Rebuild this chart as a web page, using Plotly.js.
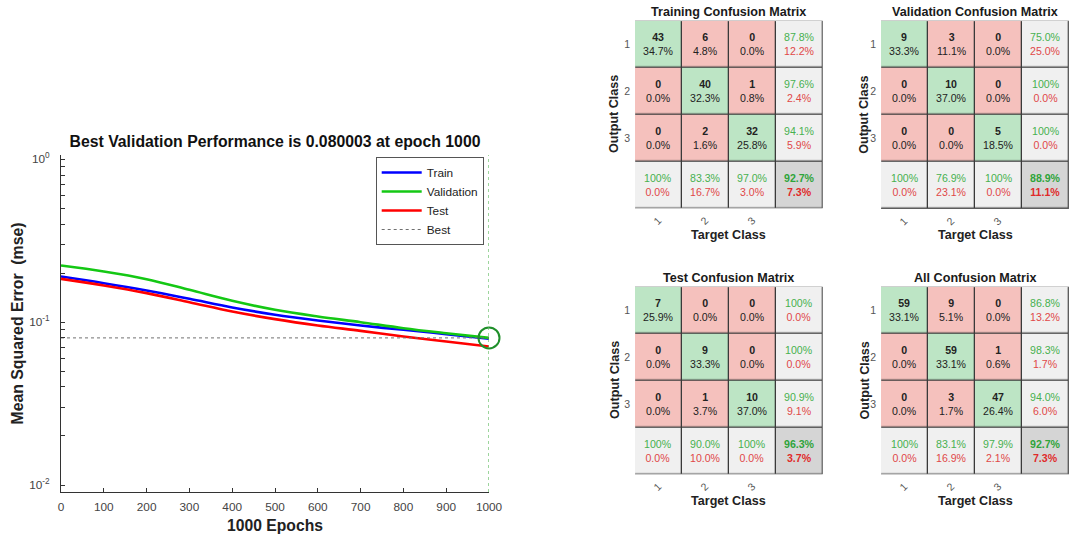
<!DOCTYPE html>
<html><head><meta charset="utf-8">
<script src="https://cdn.plot.ly/plotly-3.0.1.min.js"></script>
<style>html,body{margin:0;padding:0;background:#fff}#chart{width:1069px;height:539px}</style>
</head><body><div id="chart"></div>
<script>
// ---- Performance plot data ----
const epochs = [0, 100, 200, 300, 400, 500, 600, 700, 800, 900, 1000];
const trainMSE = [0.1905, 0.1734, 0.1563, 0.1390, 0.1230, 0.1110, 0.1023, 0.0953, 0.0897, 0.0844, 0.0790];
const validationMSE = [0.2226, 0.2045, 0.1835, 0.1578, 0.1351, 0.1190, 0.1083, 0.0999, 0.0918, 0.0855, 0.080003];
const testMSE = [0.1844, 0.1678, 0.1507, 0.1326, 0.1162, 0.1043, 0.0953, 0.0884, 0.0816, 0.0760, 0.0709];
const bestEpoch = 1000;
const bestPerf = 0.080003;
const yTickVals = [0.01, 0.1, 1];
const yTickText = ['10<sup>-2</sup>', '10<sup>-1</sup>', '10<sup>0</sup>'];
const xTickVals = [0, 100, 200, 300, 400, 500, 600, 700, 800, 900, 1000];

// ---- Confusion matrices (rows = output class, cols = target class) ----
const classLabels = ['1', '2', '3'];
const trainingCounts = [[43, 6, 0], [0, 40, 1], [0, 2, 32]];
const validationCounts = [[9, 3, 0], [0, 10, 0], [0, 0, 5]];
const testCounts = [[7, 0, 0], [0, 9, 0], [0, 1, 10]];
const allCounts = [[59, 9, 0], [0, 59, 1], [0, 3, 47]];
const matrixTitles = ['Training Confusion Matrix', 'Validation Confusion Matrix', 'Test Confusion Matrix', 'All Confusion Matrix'];

const FONT = 'Liberation Sans, Arial, Helvetica, sans-serif';
const W = 1069, H = 539;
const px = v => v / W;
const py = v => 1 - v / H;

const C_GREEN_CELL = '#bde5c5', C_RED_CELL = '#f5c1bd', C_SUM = '#f0f0f0', C_CORNER = '#d5d5d5';
const C_GTXT = '#47b04f', C_RTXT = '#e04848', C_GTXT_B = '#2ea43a', C_RTXT_B = '#e02a2a';

const data = [];
const shapes = [];
const annotations = [];

// log ticks: labelled decades plus unlabelled 2..9 within each decade
const allYTickVals = yTickVals.slice();
const allYTickText = yTickText.slice();
for (let d = 0; d < yTickVals.length - 1; d++) for (let m = 2; m <= 9; m++) {
  allYTickVals.push(yTickVals[d] * m);
  allYTickText.push(' ');
}

// Performance traces
data.push({x: epochs, y: trainMSE, name: 'Train', type: 'scatter', mode: 'lines', line: {color: '#0000ff', width: 2.6, shape: 'spline'}, xaxis: 'x', yaxis: 'y'});
data.push({x: epochs, y: validationMSE, name: 'Validation', type: 'scatter', mode: 'lines', line: {color: '#14c814', width: 2.6, shape: 'spline'}, xaxis: 'x', yaxis: 'y'});
data.push({x: epochs, y: testMSE, name: 'Test', type: 'scatter', mode: 'lines', line: {color: '#ff0000', width: 2.6, shape: 'spline'}, xaxis: 'x', yaxis: 'y'});
data.push({x: [epochs[0], bestEpoch], y: [bestPerf, bestPerf], name: 'Best', type: 'scatter', mode: 'lines', line: {color: '#707070', width: 1, dash: 'dot'}, xaxis: 'x', yaxis: 'y'});
data.push({x: [bestEpoch], y: [bestPerf], type: 'scatter', mode: 'markers', showlegend: false, hoverinfo: 'skip', cliponaxis: false,
  marker: {symbol: 'circle-open', size: 21, color: '#1f8f2a', line: {width: 2, color: '#1f8f2a'}}, xaxis: 'x', yaxis: 'y'});
shapes.push({type: 'line', xref: 'x', yref: 'y domain', x0: bestEpoch, x1: bestEpoch, y0: 0, y1: 1,
  line: {color: '#5cba5c', width: 1.2, dash: 'dot'}, layer: 'above'});

function pct(num, den) {
  if (num === den) return '100%';
  return (num / den * 100).toFixed(1) + '%';
}
function pctRest(num, den) {
  if (num === den) return '0.0%';
  return ((den - num) / den * 100).toFixed(1) + '%';
}

// grid geometry (pixels) for each matrix: [left, right, top, bottom]
const grids = [
  [635, 822.7, 20.7, 208.3],
  [881, 1069.5, 20.7, 209.0],
  [635, 822.7, 286.7, 474.3],
  [881, 1069.5, 286.7, 474.3]
];
const titleY = [11.7, 11.7, 277.7, 277.7];
const targetY = [235, 235, 501, 501];
const outputX = [614.5, 864, 614.5, 864];

const layout = {
  width: W, height: H,
  margin: {l: 0, r: 0, t: 0, b: 0},
  paper_bgcolor: '#ffffff', plot_bgcolor: '#ffffff',
  font: {family: FONT, color: '#262626'},
  showlegend: true,
  title: {text: 'Best Validation Performance is 0.080003 at epoch 1000', x: px(275), xanchor: 'center', y: py(141.7), yanchor: 'middle',
    font: {family: FONT, size: 15.8, weight: 700, color: '#111'}},
  legend: {x: px(375.7), y: py(157), xanchor: 'left', yanchor: 'top', bgcolor: '#ffffff', bordercolor: '#555', borderwidth: 1,
    font: {family: FONT, size: 11.8, color: '#222'}, itemwidth: 40, tracegroupgap: 0},
  xaxis: {domain: [px(61), px(489)], anchor: 'y', range: [0, 1000], tickvals: xTickVals, ticks: 'inside', ticklen: 4, tickcolor: '#333',
    showline: true, linecolor: '#333', linewidth: 1, mirror: false, showgrid: false, zeroline: false,
    tickfont: {family: FONT, size: 11.8, color: '#444'}, ticklabelstandoff: 4,
    title: {text: '1000 Epochs', font: {family: FONT, size: 15.7, weight: 700, color: '#222'}, standoff: 6}},
  yaxis: {domain: [py(492), py(155)], anchor: 'x', type: 'log', range: [-2.043, 0.026], tickmode: 'array', tickvals: allYTickVals, ticktext: allYTickText,
    ticks: 'inside', ticklen: 3.5, tickcolor: '#333', showline: true, linecolor: '#333', linewidth: 1, mirror: false, showgrid: false, zeroline: false,
    tickfont: {family: FONT, size: 11.8, color: '#444'}, ticklabelstandoff: 8,
    title: {text: 'Mean Squared Error \u00a0(mse)', font: {family: FONT, size: 15.8, weight: 700, color: '#222'}, standoff: 1}},
  shapes: shapes,
  annotations: annotations
};

const allMatrices = [trainingCounts, validationCounts, testCounts, allCounts];
allMatrices.forEach((counts, k) => {
  const n = counts.length;
  const ax = k + 2;
  const xa = 'x' + ax, ya = 'y' + ax;
  let total = 0, correct = 0;
  const rowSum = new Array(n).fill(0), colSum = new Array(n).fill(0);
  for (let i = 0; i < n; i++) for (let j = 0; j < n; j++) {
    total += counts[i][j]; rowSum[i] += counts[i][j]; colSum[j] += counts[i][j];
    if (i === j) correct += counts[i][j];
  }
  const z = [];
  const idx = [];
  for (let i = 0; i <= n; i++) {
    const row = [];
    for (let j = 0; j <= n; j++) {
      let code;
      if (i < n && j < n) code = (i === j) ? 0 : 1;
      else if (i === n && j === n) code = 3;
      else code = 2;
      row.push(code);
      let txt;
      if (i < n && j < n) {
        txt = '<b>' + counts[i][j] + '</b><br>' + pct(counts[i][j], total);
      } else if (i < n) {
        txt = '<span style="color:' + C_GTXT + '">' + pct(counts[i][i], rowSum[i]) + '</span><br><span style="color:' + C_RTXT + '">' + pctRest(counts[i][i], rowSum[i]) + '</span>';
      } else if (j < n) {
        txt = '<span style="color:' + C_GTXT + '">' + pct(counts[j][j], colSum[j]) + '</span><br><span style="color:' + C_RTXT + '">' + pctRest(counts[j][j], colSum[j]) + '</span>';
      } else {
        txt = '<b><span style="color:' + C_GTXT_B + '">' + pct(correct, total) + '</span><br><span style="color:' + C_RTXT_B + '">' + pctRest(correct, total) + '</span></b>';
      }
      annotations.push({xref: xa, yref: ya, x: j, y: i, text: txt, showarrow: false, align: 'center',
        font: {family: FONT, size: 10.6, color: '#222'}});
    }
    z.push(row);
    idx.push(i);
  }
  data.push({type: 'heatmap', z: z, x: idx, y: idx, xaxis: xa, yaxis: ya, zmin: 0, zmax: 3, showscale: false, hoverinfo: 'skip',
    xgap: 1.3, ygap: 1.3,
    colorscale: [[0, C_GREEN_CELL], [0.2, C_GREEN_CELL], [0.2, C_RED_CELL], [0.5, C_RED_CELL], [0.5, C_SUM], [0.8, C_SUM], [0.8, C_CORNER], [1, C_CORNER]]});
  shapes.push({type: 'rect', xref: xa, yref: ya, x0: -0.5, x1: n + 0.5, y0: -0.5, y1: n + 0.5, layer: 'below',
    fillcolor: '#3a3a3a', line: {color: '#6a6a6a', width: 1.5}});
  const g = grids[k];
  const tickPos = classLabels.map((_, i) => i);
  layout['xaxis' + ax] = {domain: [px(g[0]), Math.min(1, px(g[1]))], anchor: ya, range: [-0.5, n + 0.5], tickvals: tickPos, ticktext: classLabels,
    tickangle: -45, ticks: '', showgrid: false, zeroline: false, showline: false, fixedrange: true,
    tickfont: {family: FONT, size: 10.5, color: '#555'}, ticklabelstandoff: 3};
  layout['yaxis' + ax] = {domain: [py(g[3]), py(g[2])], anchor: xa, range: [n + 0.5, -0.5], tickvals: tickPos, ticktext: classLabels,
    ticks: '', showgrid: false, zeroline: false, showline: false, fixedrange: true,
    tickfont: {family: FONT, size: 10.5, color: '#555'}, ticklabelstandoff: 4};
  const cx = (g[0] + g[1]) / 2, cy = (g[2] + g[3]) / 2;
  annotations.push({xref: 'paper', yref: 'paper', x: px(cx), y: py(titleY[k]), xanchor: 'center', yanchor: 'middle', showarrow: false,
    text: matrixTitles[k], font: {family: FONT, size: 12.6, weight: 700, color: '#1a1a1a'}});
  annotations.push({xref: 'paper', yref: 'paper', x: px(cx), y: py(targetY[k]), xanchor: 'center', yanchor: 'middle', showarrow: false,
    text: 'Target Class', font: {family: FONT, size: 12.6, weight: 700, color: '#222'}});
  annotations.push({xref: 'paper', yref: 'paper', x: px(outputX[k]), y: py(cy), xanchor: 'center', yanchor: 'middle', showarrow: false, textangle: -90,
    text: 'Output Class', font: {family: FONT, size: 12.6, weight: 700, color: '#222'}});
});

Plotly.newPlot('chart', data, layout, {displayModeBar: false, staticPlot: true});
</script>
</body></html>
